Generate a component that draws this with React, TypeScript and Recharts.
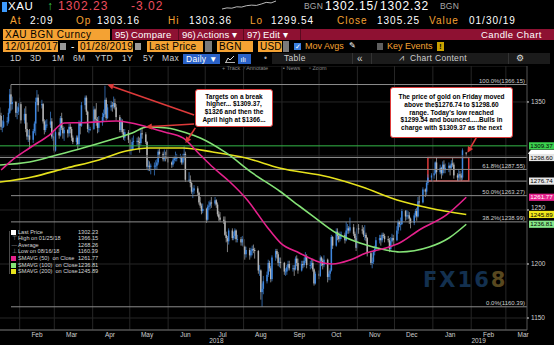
import React from "react";
import {
  Bar,
  CartesianGrid,
  ComposedChart,
  Line,
  LineChart,
  ReferenceArea,
  ReferenceDot,
  ReferenceLine,
  XAxis,
  YAxis,
} from "recharts";

const FONT = '"Liberation Sans", Arial, sans-serif';
const AMBER = "#f4a233";
const RED = "#dd3a3a";
const UP = "#3f86dd";
const DOWN = "#b4b4b4";
const MAGENTA = "#e5218c";
const GREEN = "#84e276";
const YELLOW = "#e6e21c";

// daily XAU sessions, Mon..Fri per row, starting this Monday; null = market closed
const firstSession = "2018-01-15";

const opens = [
  1338, 1338, 1337, 1327, 1327,
  1332, 1332, 1340, 1357, 1348,
  1350, 1340, 1341, 1345, 1348,
  1333, 1339, 1325, 1318, 1319,
  1315, 1323, 1330, 1350, 1354,
  1347, 1348, 1332, 1324, 1329,
  1329, 1332, 1318, 1318, 1305,
  1322, 1319, 1335, 1326, 1321,
  1324, 1321, 1327, 1325, 1317,
  1313, 1317, 1311, 1331, 1328,
  1347, 1354, 1341, 1325, 1325,
  1325, 1343, 1334, 1333, 1326,
  1331, 1336, 1339, 1352, 1335,
  1345, 1347, 1346, 1349, 1345,
  1336, 1324, 1332, 1322, 1317,
  1322, 1315, 1305, 1306, 1313,
  1314, 1314, 1313, 1312, 1321,
  1320, 1313, 1290, 1291, 1290,
  1291, 1291, 1291, 1294, 1304,
  1302, 1297, 1300, 1299, 1298,
  1294, 1292, 1296, 1298, 1298,
  1298, 1298, 1294, 1299, 1302,
  1278, 1278, 1275, 1267, 1268,
  1270, 1266, 1257, 1254, 1249,
  1251, 1241, 1253, 1254, 1257,
  1256, 1259, 1255, 1246, 1243,
  1241, 1240, 1227, 1224, 1221,
  1231, 1224, 1226, 1231, 1223,
  1223, 1220, 1223, 1216, 1209,
  1213, 1208, 1212, 1214, 1213,
  1212, 1194, 1194, 1174, 1177,
  1184, 1190, 1201, 1196, 1186,
  1206, 1212, 1209, 1201, 1202,
  1201, 1193, 1193, 1197, 1200,
  1196, 1196, 1195, 1205, 1201,
  1194, 1200, 1199, 1203, 1207,
  1199, 1199, 1201, 1195, 1182,
  1191, 1189, 1206, 1203, 1199,
  1204, 1188, 1191, 1194, 1225,
  1217, 1230, 1226, 1223, 1227,
  1227, 1222, 1231, 1233, 1231,
  1234, 1228, 1224, 1215, 1233,
  1232, 1231, 1227, 1227, 1224,
  1210, 1201, 1202, 1211, 1214,
  1222, 1224, 1222, 1227, 1226,
  1223, 1222, 1214, 1221, 1224,
  1222, 1231, 1239, 1237, 1237,
  1249, 1244, 1245, 1245, 1242,
  1238, 1245, 1249, 1244, 1258,
  1257, null, 1269, 1267, 1275,
  1280, null, 1282, 1284, 1294,
  1285, 1289, 1284, 1292, 1287,
  1289, 1291, 1289, 1293, 1292,
  1282, 1280, 1283, 1282, 1280,
  1303.16,
];

const highs = [
  1344, 1345, 1340, 1333, 1338,
  1336, 1344, 1362, 1366.15, 1355,
  1351, 1346, 1349, 1354, 1350,
  1344, 1346, 1331, 1324, 1325,
  1325, 1332, 1354, 1361, 1357,
  1352, 1349, 1334, 1333, 1334,
  1341, 1335, 1322, 1322, 1325,
  1326, 1337, 1340, 1328, 1327,
  1325, 1330, 1330, 1327, 1319,
  1319, 1319, 1333, 1332, 1350,
  1356, 1356, 1342, 1329, 1327,
  1346, 1344, 1349, 1336, 1337,
  1340, 1343, 1365, 1354, 1348,
  1351, 1350, 1355, 1353, 1348,
  1338, 1335, 1334, 1325, 1325,
  1324, 1316, 1310, 1317, 1319,
  1317, 1318, 1317, 1324, 1326,
  1322, 1314, 1296, 1295, 1293,
  1294, 1296, 1297, 1306, 1307,
  1304, 1306, 1304, 1306, 1300,
  1295, 1298, 1300, 1304, 1302,
  1302, 1300, 1302, 1309, 1304,
  1285, 1282, 1276, 1271, 1273,
  1272, 1267, 1262, 1256, 1256,
  1252, 1255, 1258, 1259, 1262,
  1262, 1260, 1257, 1249, 1248,
  1244, 1244, 1230, 1226, 1233,
  1233, 1230, 1233, 1232, 1227,
  1225, 1226, 1225, 1217, 1216,
  1215, 1215, 1217, 1218, 1215,
  1213, 1199, 1195, 1182, 1189,
  1193, 1204, 1203, 1198, 1208,
  1214, 1214, 1211, 1206, 1206,
  1202, 1196, 1199, 1203, 1203,
  1199, 1199, 1207, 1208, 1205,
  1203, 1203, 1206, 1211, 1209,
  1203, 1205, 1205, 1196, 1193,
  1194, 1208, 1207, 1205, 1208,
  1205, 1193, 1196, 1227, 1226,
  1233, 1233, 1229, 1230, 1230,
  1229, 1239, 1237, 1235, 1243,
  1237, 1230, 1226, 1236, 1237,
  1236, 1234, 1236, 1229, 1225,
  1211, 1206, 1213, 1217, 1225,
  1227, 1227, 1229, 1229, 1228,
  1226, 1224, 1225, 1228, 1227,
  1235, 1241, 1240, 1243, 1251,
  1250, 1250, 1249, 1248, 1243,
  1247, 1251, 1252, 1262, 1263,
  1271, null, 1270, 1277, 1283,
  1284, null, 1287, 1295, 1298.6,
  1292, 1290, 1295, 1296, 1293,
  1294, 1292, 1296, 1298, 1294,
  1284, 1288, 1286, 1284, 1307,
  1303.36,
];

const lows = [
  1335, 1333, 1324, 1322, 1326,
  1328, 1330, 1339, 1342, 1343,
  1336, 1334, 1338, 1341, 1330,
  1330, 1322, 1315, 1313, 1308,
  1312, 1321, 1319, 1347, 1341,
  1344, 1330, 1320, 1322, 1326,
  1326, 1316, 1314, 1303, 1304,
  1316, 1318, 1324, 1316, 1314,
  1317, 1318, 1321, 1314, 1311,
  1310, 1306, 1309, 1320, 1327,
  1343, 1338, 1322, 1321, 1323,
  1324, 1331, 1328, 1321, 1322,
  1328, 1332, 1338, 1333, 1334,
  1342, 1341, 1344, 1343, 1333,
  1322, 1322, 1320, 1315, 1314,
  1312, 1302, 1301, 1305, 1306,
  1310, 1306, 1303, 1310, 1316,
  1311, 1288, 1286, 1286, 1283,
  1282, 1287, 1287, 1292, 1298,
  1295, 1295, 1295, 1297, 1288,
  1289, 1290, 1293, 1295, 1295,
  1294, 1292, 1292, 1296, 1276,
  1276, 1271, 1265, 1261, 1265,
  1263, 1255, 1252, 1246, 1247,
  1238, 1240, 1250, 1251, 1252,
  1254, 1252, 1244, 1240, 1239,
  1237, 1226, 1220, 1211, 1218,
  1222, 1222, 1223, 1220, 1220,
  1217, 1217, 1213, 1204, 1206,
  1204, 1206, 1208, 1210, 1205,
  1191, 1189, 1167, 1160.39, 1172,
  1182, 1188, 1193, 1183, 1184,
  1203, 1205, 1198, 1197, 1196,
  1190, 1189, 1190, 1194, 1194,
  1193, 1189, 1194, 1198, 1191,
  1193, 1196, 1197, 1201, 1196,
  1195, 1196, 1193, 1180, 1181,
  1186, 1188, 1198, 1195, 1197,
  1183, 1185, 1185, 1193, 1214,
  1216, 1222, 1220, 1221, 1223,
  1219, 1221, 1228, 1228, 1229,
  1226, 1222, 1212, 1214, 1228,
  1228, 1225, 1222, 1221, 1207,
  1199, 1196, 1200, 1208, 1212,
  1219, 1217, 1220, 1224, 1220,
  1220, 1211, 1212, 1220, 1217,
  1221, 1228, 1234, 1231, 1236,
  1240, 1241, 1242, 1237, 1233,
  1236, 1243, 1240, 1243, 1253,
  1256, null, 1262, 1264, 1273,
  1277, null, 1279, 1283, 1276.74,
  1283, 1279, 1282, 1284, 1284,
  1285, 1282, 1287, 1290, 1279,
  1277, 1277, 1278, 1277, 1278,
  1299.54,
];

const closes = [
  1338, 1337, 1327, 1327, 1332,
  1332, 1340, 1357, 1348, 1350,
  1340, 1341, 1345, 1348, 1333,
  1339, 1325, 1318, 1319, 1315,
  1323, 1330, 1350, 1354, 1347,
  1348, 1332, 1324, 1329, 1329,
  1332, 1318, 1318, 1305, 1322,
  1319, 1335, 1326, 1321, 1324,
  1321, 1327, 1325, 1317, 1313,
  1317, 1311, 1331, 1328, 1347,
  1354, 1341, 1325, 1325, 1325,
  1343, 1334, 1333, 1326, 1331,
  1336, 1339, 1352, 1335, 1345,
  1347, 1346, 1349, 1345, 1336,
  1324, 1332, 1322, 1317, 1322,
  1315, 1305, 1306, 1313, 1314,
  1314, 1313, 1312, 1321, 1320,
  1313, 1290, 1291, 1290, 1291,
  1291, 1291, 1294, 1304, 1302,
  1297, 1300, 1299, 1298, 1294,
  1292, 1296, 1298, 1298, 1298,
  1298, 1294, 1299, 1302, 1278,
  1278, 1275, 1267, 1268, 1270,
  1266, 1257, 1254, 1249, 1251,
  1241, 1253, 1254, 1257, 1256,
  1259, 1255, 1246, 1243, 1241,
  1240, 1227, 1224, 1221, 1231,
  1224, 1226, 1231, 1223, 1223,
  1220, 1223, 1216, 1209, 1213,
  1208, 1212, 1214, 1213, 1212,
  1194, 1194, 1174, 1177, 1184,
  1190, 1201, 1196, 1186, 1206,
  1212, 1209, 1201, 1202, 1201,
  1193, 1193, 1197, 1200, 1196,
  1196, 1195, 1205, 1201, 1194,
  1200, 1199, 1203, 1207, 1199,
  1199, 1201, 1195, 1182, 1191,
  1189, 1206, 1203, 1199, 1204,
  1188, 1191, 1194, 1225, 1217,
  1230, 1226, 1223, 1227, 1227,
  1222, 1231, 1233, 1231, 1234,
  1228, 1224, 1215, 1233, 1232,
  1231, 1227, 1227, 1224, 1210,
  1201, 1202, 1211, 1214, 1222,
  1224, 1222, 1227, 1226, 1223,
  1222, 1214, 1221, 1224, 1222,
  1231, 1239, 1237, 1237, 1249,
  1244, 1245, 1245, 1242, 1238,
  1245, 1249, 1244, 1258, 1257,
  1269, null, 1267, 1275, 1280,
  1282, null, 1284, 1294, 1285,
  1289, 1284, 1292, 1287, 1289,
  1291, 1289, 1293, 1292, 1282,
  1280, 1283, 1282, 1280, 1305.25,
  1302.23,
];

// moving averages
const sma50 = [
  { date: "2018-01-17", value: 1287 },
  { date: "2018-01-24", value: 1294.4 },
  { date: "2018-02-09", value: 1307.4 },
  { date: "2018-02-25", value: 1319.4 },
  { date: "2018-03-09", value: 1330.6 },
  { date: "2018-03-24", value: 1330.8 },
  { date: "2018-04-20", value: 1332.4 },
  { date: "2018-05-15", value: 1326.9 },
  { date: "2018-05-29", value: 1322.2 },
  { date: "2018-06-13", value: 1316.7 },
  { date: "2018-06-27", value: 1300.9 },
  { date: "2018-07-07", value: 1289.8 },
  { date: "2018-07-21", value: 1275.9 },
  { date: "2018-08-04", value: 1259.3 },
  { date: "2018-08-20", value: 1234.3 },
  { date: "2018-08-31", value: 1219.4 },
  { date: "2018-09-15", value: 1210.2 },
  { date: "2018-10-01", value: 1201.9 },
  { date: "2018-10-12", value: 1200 },
  { date: "2018-10-26", value: 1203.7 },
  { date: "2018-11-08", value: 1210.2 },
  { date: "2018-11-24", value: 1214.8 },
  { date: "2018-12-05", value: 1219.4 },
  { date: "2018-12-21", value: 1231.5 },
  { date: "2019-01-12", value: 1245.4 },
  { date: "2019-01-28", value: 1261.77 },
];

const sma100 = [
  { date: "2018-01-16", value: 1291.7 },
  { date: "2018-02-09", value: 1294.4 },
  { date: "2018-03-03", value: 1300.9 },
  { date: "2018-03-24", value: 1307.4 },
  { date: "2018-04-15", value: 1314.8 },
  { date: "2018-05-03", value: 1321.3 },
  { date: "2018-05-15", value: 1326.9 },
  { date: "2018-05-31", value: 1325.9 },
  { date: "2018-06-16", value: 1321.3 },
  { date: "2018-06-27", value: 1316.7 },
  { date: "2018-07-18", value: 1302.8 },
  { date: "2018-08-08", value: 1284.3 },
  { date: "2018-08-30", value: 1267.6 },
  { date: "2018-09-15", value: 1253.7 },
  { date: "2018-09-26", value: 1244.4 },
  { date: "2018-10-15", value: 1228.7 },
  { date: "2018-11-03", value: 1219.4 },
  { date: "2018-11-24", value: 1213 },
  { date: "2018-12-05", value: 1211.1 },
  { date: "2018-12-29", value: 1215.7 },
  { date: "2019-01-14", value: 1224.1 },
  { date: "2019-01-28", value: 1236.81 },
];

const sma200 = [
  { date: "2018-01-16", value: 1275.9 },
  { date: "2018-02-11", value: 1280.6 },
  { date: "2018-03-11", value: 1288.9 },
  { date: "2018-04-06", value: 1296.3 },
  { date: "2018-04-28", value: 1304.6 },
  { date: "2018-05-17", value: 1307.4 },
  { date: "2018-06-13", value: 1307.4 },
  { date: "2018-07-07", value: 1303.7 },
  { date: "2018-08-03", value: 1298.1 },
  { date: "2018-08-30", value: 1288.9 },
  { date: "2018-10-09", value: 1280.6 },
  { date: "2018-11-05", value: 1271.3 },
  { date: "2018-12-03", value: 1259.3 },
  { date: "2018-12-29", value: 1251.9 },
  { date: "2019-01-28", value: 1245.89 },
];

const monthLabels = ["Feb", "Mar", "Apr", "May", "Jun", "Jul", "Aug", "Sep", "Oct", "Nov", "Dec", "Jan", "Feb", "Mar"];
const yearLabels = [
  { label: "2018", date: "2018-07-10" },
  { label: "2019", date: "2019-02-07" },
];
const priceTicks = [1150, 1200, 1250, 1350];

const fibLevels = [
  { label: "100.0%", value: 1366.15 },
  { label: "61.8%", value: 1287.55 },
  { label: "50.0%", value: 1263.27 },
  { label: "38.2%", value: 1238.99 },
  { label: "0.0%", value: 1160.39 },
];
const fibStart = "2018-01-25";

const levelLines = [
  { value: 1309.37, color: "#34b948" },
  { value: 1298.6, color: "#8a8a8a" },
  { value: 1276.74, color: "#8a8a8a" },
];

// right-edge price tags; the last-price tag sits mostly under the 1298.60 tag
const lastPrice = 1302.23;
const axisTags = [
  { value: 1309.37, bg: "#3bd24f", fg: "#000" },
  { value: 1298.6, bg: "#e6e6e6", fg: "#000" },
  { value: 1276.74, bg: "#e6e6e6", fg: "#000" },
  { value: 1261.77, bg: "#e5218c", fg: "#fff" },
  { value: 1245.89, bg: "#f0e81c", fg: "#000" },
  { value: 1236.81, bg: "#86e88a", fg: "#000" },
];

const rangeBox = { from: "2018-12-28", to: "2019-01-30", low: 1276.74, high: 1298.6 };

const arrows = [
  { from: { date: "2018-06-22", price: 1338 }, to: { date: "2018-04-13", price: 1366 } },
  { from: { date: "2018-06-22", price: 1329.6 }, to: { date: "2018-05-14", price: 1327 } },
  { from: { date: "2018-06-23", price: 1326 }, to: { date: "2018-06-15", price: 1312 } },
  { from: { date: "2019-02-05", price: 1316.7 }, to: { date: "2019-01-29", price: 1303 } },
];

const legendRows = [
  { icon: "box", color: "#ffffff", label: "Last Price", value: "1302.23" },
  { icon: "⊤", label: "High on 01/25/18", value: "1366.15" },
  { icon: "—", label: "Average", value: "1268.26" },
  { icon: "⊥", label: "Low on 08/16/18", value: "1160.39" },
  { icon: "box", color: MAGENTA, label: "SMAVG (50)  on Close", value: "1261.77" },
  { icon: "box", color: GREEN, label: "SMAVG (100)  on Close", value: "1236.81" },
  { icon: "box", color: YELLOW, label: "SMAVG (200)  on Close", value: "1245.89" },
];

const note1 = ["Targets on a break", "higher... $1309.37,", "$1326 and then the", "April high at $1366..."];
const note2 = [
  "The price of gold on Friday moved",
  "above the$1276.74 to $1298.60",
  "range. Today's low reached",
  "$1299.54 and bounced.....Bulls in",
  "charge with $1309.37 as the next",
];

const sparkline = [1276, 1280, 1279, 1284, 1283, 1288, 1290, 1289, 1294, 1300, 1298, 1305];

// ---------- helpers ----------
const DAY0 = Date.UTC(2018, 0, 1);
const dayOf = (s: string) => {
  const [y, m, d] = s.split("-").map(Number);
  return (Date.UTC(y, m - 1, d) - DAY0) / 86400000;
};
const monthDay = (k: number, d: number) => (Date.UTC(2018, 1 + k, d) - DAY0) / 86400000;

const X_DOMAIN: [number, number] = [15.1, 441.1];
const Y_DOMAIN: [number, number] = [1138.9, 1383.3];

const startDay = dayOf(firstSession);
const candles = closes
  .map((c, i) => {
    const o = opens[i];
    if (c == null || o == null) return null;
    return {
      x: startDay + Math.floor(i / 5) * 7 + (i % 5),
      open: o,
      close: c,
      high: Math.max(highs[i] as number, o, c),
      low: Math.min(lows[i] as number, o, c),
    };
  })
  .filter(Boolean) as { x: number; open: number; close: number; high: number; low: number }[];

const toSeries = (rows: { date: string; value: number }[]) => rows.map((r) => ({ x: dayOf(r.date), v: r.value }));

const monthTicks = monthLabels.map((_, k) => monthDay(k, 15));
const monthStarts = monthLabels.map((_, k) => monthDay(k, 1));
const yearTicks = yearLabels.map((y) => dayOf(y.date));

function Candle(props: any) {
  const { x, y, width, height } = props;
  const d = props.payload ?? props;
  if (x == null || y == null || d == null) return null;
  const top = Math.min(y, y + height);
  const span = Math.abs(height);
  const k = d.high > d.low ? span / (d.high - d.low) : 0;
  const yOpen = top + (d.high - d.open) * k;
  const yClose = top + (d.high - d.close) * k;
  const color = d.close >= d.open ? UP : DOWN;
  const cx = x + width / 2;
  return (
    <g>
      <line x1={cx} x2={cx} y1={top} y2={top + span} stroke={color} strokeWidth={0.7} />
      <rect
        x={cx - 0.75}
        y={Math.min(yOpen, yClose)}
        width={1.5}
        height={Math.max(0.8, Math.abs(yClose - yOpen))}
        fill={color}
      />
    </g>
  );
}

function ArrowShape(p: any) {
  const { x1, y1, x2, y2 } = p;
  if ([x1, y1, x2, y2].some((v) => v == null)) return null;
  const a = Math.atan2(y2 - y1, x2 - x1);
  const L = 6;
  const W = 3;
  const bx = x2 - L * Math.cos(a);
  const by = y2 - L * Math.sin(a);
  const pts = `${x2},${y2} ${bx + W * Math.sin(a)},${by - W * Math.cos(a)} ${bx - W * Math.sin(a)},${by + W * Math.cos(a)}`;
  return (
    <g>
      <line x1={x1} y1={y1} x2={bx} y2={by} stroke={RED} strokeWidth={1.6} />
      <polygon points={pts} fill={RED} />
    </g>
  );
}

// price-axis tick; the 1250 label peeks out above the SMA(200) tag
function PriceTick(p: any) {
  const v = p.payload?.value;
  const lift = v === 1250 ? -2.6 : 0;
  return (
    <text x={p.x} y={p.y + lift} dy="0.355em" textAnchor="start" fontSize={6.5} fill="#cfcfcf" fontFamily={FONT}>
      {v}
    </text>
  );
}

const tagShape = (tag: { value: number; bg: string; fg: string }) => (p: any) =>
  (
    <g>
      <rect x={p.cx + 2} y={p.cy - 3.6} width={25} height={7.2} fill={tag.bg} />
      <text
        x={p.cx + 14.5}
        y={p.cy + 2.2}
        textAnchor="middle"
        fontSize={6.2}
        fill={tag.fg}
        fontFamily={FONT}
      >
        {tag.value.toFixed(2)}
      </text>
    </g>
  );

const lastTagShape = (p: any) => (
  <polygon
    points={`${p.cx + 1},${p.cy} ${p.cx + 4},${p.cy - 3.8} ${p.cx + 27},${p.cy - 3.8} ${p.cx + 27},${p.cy + 2} ${p.cx + 4},${p.cy + 2}`}
    fill="#ffffff"
  />
);

const fibShape = (fib: { label: string; value: number }) => (p: any) =>
  (
    <text x={p.cx - 2} y={p.cy - 1.6} textAnchor="end" fontSize={6} fill="#cfcfcf" fontFamily={FONT}>
      {`${fib.label}(${fib.value.toFixed(2)})`}
    </text>
  );

// ---------- header pieces ----------
function Txt({ x, y, size = 10, color = "#fff", ls = 0, bold = false, children }: any) {
  return (
    <span
      style={{
        position: "absolute",
        left: x,
        top: y,
        fontSize: size,
        lineHeight: `${size}px`,
        color,
        letterSpacing: ls,
        fontWeight: bold ? 700 : 400,
        whiteSpace: "pre",
      }}
    >
      {children}
    </span>
  );
}

function Box({ x, y, w, h, bg, children }: any) {
  return (
    <div style={{ position: "absolute", left: x, top: y, width: w, height: h, background: bg }}>{children}</div>
  );
}

function Header() {
  const r2 = 15.5;
  return (
    <>
      <Box x={2} y={2} w={5} h={10} bg="#3d9bff" />
      <Txt x={8} y={1} size={11.5} ls={0.6}>XAU</Txt>
      <Txt x={47} y={0} size={12} color="#35d04c">↑</Txt>
      <Txt x={58} y={0} size={12} ls={1} color="#ec4d5e">1302.23</Txt>
      <Txt x={131} y={0} size={12} ls={1} color="#ec4d5e">-3.02</Txt>
      <div style={{ position: "absolute", left: 222, top: 0 }}>
        <LineChart width={54} height={10} data={sparkline.map((v, i) => ({ i, v }))} margin={{ top: 1, right: 0, bottom: 1, left: 0 }}>
          <YAxis hide domain={["dataMin", "dataMax"]} />
          <Line dataKey="v" stroke="#e8e8e8" strokeWidth={0.8} dot={false} isAnimationActive={false} />
        </LineChart>
      </div>
      <Txt x={304} y={2} size={8.5} ls={0.2} color="#a8a8a8">BGN</Txt>
      <Txt x={325} y={0} size={12} ls={0.8}>1302.15</Txt>
      <Txt x={374} y={0} size={12}>/</Txt>
      <Txt x={380} y={0} size={12} ls={0.8}>1302.32</Txt>
      <Txt x={440} y={2} size={8.5} ls={0.2} color="#a8a8a8">BGN</Txt>

      <Txt x={10} y={r2} ls={1} color={AMBER}>At</Txt>
      <Txt x={30} y={r2} ls={1}>2:09</Txt>
      <Txt x={76} y={r2} ls={1} color={AMBER}>Op</Txt>
      <Txt x={97} y={r2} ls={1}>1303.16</Txt>
      <Txt x={168} y={r2} ls={1} color={AMBER}>Hi</Txt>
      <Txt x={189} y={r2} ls={1}>1303.36</Txt>
      <Txt x={250} y={r2} ls={1} color={AMBER}>Lo</Txt>
      <Txt x={271} y={r2} ls={1}>1299.54</Txt>
      <Txt x={337} y={r2} ls={1} color={AMBER}>Close</Txt>
      <Txt x={377} y={r2} ls={1}>1305.25</Txt>
      <Txt x={429} y={r2} ls={1} color={AMBER}>Value</Txt>
      <Txt x={469} y={r2} ls={1}>01/30/19</Txt>

      <Box x={3} y={29} w={107} h={11} bg={AMBER} />
      <Txt x={5} y={29.6} ls={0.5} color="#000">XAU BGN Curncy</Txt>
      <Box x={112} y={29} w={442} h={11} bg="#8e1132" />
      <Box x={178} y={29} w={1} h={11} bg="#5a0a1f" />
      <Box x={243} y={29} w={1} h={11} bg="#5a0a1f" />
      <Box x={300} y={29} w={1} h={11} bg="#5a0a1f" />
      <Txt x={115} y={30} size={9.5}>95)</Txt>
      <Txt x={131} y={30} size={9.5} ls={0.2}>Compare</Txt>
      <Txt x={182} y={30} size={9.5}>96)</Txt>
      <Txt x={197} y={30} size={9.5} ls={0.2}>Actions ▾</Txt>
      <Txt x={247} y={30} size={9.5}>97)</Txt>
      <Txt x={263} y={30} size={9.5} ls={0.2}>Edit ▾</Txt>
      <Txt x={481} y={30} size={9.5} ls={0.4}>Candle Chart</Txt>

      <Box x={3} y={41} w={55} h={11} bg={AMBER} />
      <Txt x={5} y={41.6} ls={0.3} color="#000">12/01/2017</Txt>
      <Box x={60} y={43} w={6} h={7} bg="#9a9a9a" />
      <Txt x={71} y={41.6}>-</Txt>
      <Box x={78} y={41} w={55} h={11} bg={AMBER} />
      <Txt x={80} y={41.6} ls={0.3} color="#000">01/28/2019</Txt>
      <Box x={135} y={43} w={6} h={7} bg="#9a9a9a" />
      <Box x={147} y={41} w={56} h={11} bg={AMBER} />
      <Txt x={149} y={41.6} ls={0.3} color="#000">Last Price</Txt>
      <Box x={205} y={41} w={7} h={11} bg="#7a7a7a" />
      <Box x={217} y={41} w={36} h={11} bg={AMBER} />
      <Txt x={219} y={41.6} ls={0.4} color="#000">BGN</Txt>
      <Box x={258} y={41} w={24} h={11} bg={AMBER} />
      <Txt x={260} y={41.6} ls={0.2} color="#000">USD</Txt>
      <Box x={283} y={41} w={6} h={11} bg="#7a7a7a" />
      <Box x={294} y={43} w={7} h={7} bg="#3a7fe0" />
      <Txt x={294.5} y={42.5} size={7}>✓</Txt>
      <Txt x={305} y={42.2} size={9}>
        <span style={{ color: AMBER }}>Mov Avgs</span>
      </Txt>
      <Txt x={349} y={42} size={7.5}>✎</Txt>
      <Box x={377} y={43} w={6} h={7} bg="#5f5f5f" />
      <Txt x={387} y={42.2} size={9} color={AMBER}>Key Events</Txt>
      <Box x={437} y={42} w={7} h={9} bg="#c9a200" />
      <Txt x={439.3} y={43} size={7} bold color="#000">!</Txt>

      {[["1D", 10], ["3D", 30], ["1M", 52], ["6M", 73], ["YTD", 95], ["1Y", 122], ["5Y", 143], ["Max", 162]].map(([t, x]) => (
        <Txt key={t as string} x={x} y={54.3} size={8.5} ls={0.3} color="#cfcfcf">{t}</Txt>
      ))}
      <Box x={183} y={54} w={37} h={10} bg="#2a62c8" />
      <Txt x={186} y={55} size={8.5} ls={0.3}>Daily ▼</Txt>
      <svg style={{ position: "absolute", left: 225, top: 55 }} width={10} height={8}>
        <polyline points="1,7 3,3 5,5 9,1" fill="none" stroke="#ddd" strokeWidth={1} />
        <line x1={0} y1={7.5} x2={10} y2={7.5} stroke="#ddd" strokeWidth={0.8} />
      </svg>
      <Box x={238} y={54} w={13} h={10} bg="#2a62c8" />
      <Txt x={240.5} y={55.5} size={7}>ılı</Txt>
      <Txt x={264} y={54.3} size={8.5} color="#aaa">•</Txt>
      <Box x={272} y={53} w={278} h={11} bg="#1b1b1b" />
      <Box x={352} y={53} w={1} h={11} bg="#333" />
      <Box x={371} y={53} w={1} h={11} bg="#333" />
      <Box x={508} y={53} w={1} h={11} bg="#333" />
      <Txt x={284} y={54.3} size={8.5} ls={0.3} color="#cfcfcf">Table</Txt>
      <Txt x={357} y={53.5} size={10} color="#cfcfcf">«</Txt>
      <Txt x={399} y={54.3} size={8.5} color="#cfcfcf">⩘</Txt>
      <Txt x={410} y={54.3} size={8.5} ls={0.3} color="#cfcfcf">Chart Content</Txt>
      <Txt x={516} y={53.8} size={9} color="#dddddd">⚙</Txt>

      <Txt x={222} y={65.5} size={5.5} color="#8a8a8a">+ Track</Txt>
      <Txt x={244} y={65.5} size={5.5} color="#8a8a8a">⁄ Annotate</Txt>
      <Txt x={283} y={65.5} size={5.5} color="#8a8a8a">▪ News</Txt>
      <Txt x={309} y={65.5} size={5.5} color="#8a8a8a">▫ Zoom</Txt>
    </>
  );
}

function Legend() {
  const rowH = 6.6;
  return (
    <div style={{ position: "absolute", left: 7, top: 228.7, width: 100 }}>
      <div style={{ position: "absolute", left: 1.5, top: 2, width: 1, height: rowH * 7 - 3, background: "#4a4a4a" }} />
      {legendRows.map((r, i) => (
        <div key={r.label} style={{ position: "absolute", top: i * rowH, left: 0, height: rowH, width: 100 }}>
          {r.icon === "box" ? (
            <div style={{ position: "absolute", left: 4, top: 1, width: 5, height: 5, background: r.color }} />
          ) : (
            <span style={{ position: "absolute", left: 4.5, top: 0, fontSize: 5.6, lineHeight: `${rowH}px`, color: "#9a9a9a" }}>
              {r.icon}
            </span>
          )}
          <span style={{ position: "absolute", left: 11, top: 0, fontSize: 5.6, lineHeight: `${rowH}px`, color: "#d6d6d6", whiteSpace: "pre" }}>
            {r.label}
          </span>
          <span style={{ position: "absolute", left: 71, top: 0, fontSize: 5.6, lineHeight: `${rowH}px`, color: "#d6d6d6" }}>
            {r.value}
          </span>
        </div>
      ))}
    </div>
  );
}

function Note({ x, y, w, h, lines, lineH }: any) {
  return (
    <div
      style={{
        position: "absolute",
        left: x,
        top: y,
        width: w,
        height: h,
        boxSizing: "border-box",
        background: "#ffffff",
        border: `1.5px solid ${RED}`,
        borderRadius: 3,
        display: "flex",
        flexDirection: "column",
        justifyContent: "center",
        alignItems: "center",
      }}
    >
      {lines.map((l: string) => (
        <div key={l} style={{ fontSize: 6.5, lineHeight: `${lineH}px`, fontWeight: 700, color: "#000", whiteSpace: "pre" }}>
          {l}
        </div>
      ))}
    </div>
  );
}

export default function App() {
  return (
    <div style={{ position: "relative", width: 554, height: 345, background: "#000", overflow: "hidden", fontFamily: FONT }}>
      <style>{"body{margin:0;background:#000}"}</style>
      <Header />
      <div style={{ position: "absolute", left: 0, top: 66 }}>
        <ComposedChart width={554} height={279} data={candles} margin={{ top: 0, right: 0, bottom: 0, left: 0 }}>
          <CartesianGrid vertical={false} stroke="#262626" />
          <XAxis
            type="number"
            dataKey="x"
            domain={X_DOMAIN}
            allowDataOverflow
            ticks={monthTicks}
            interval={0}
            tickFormatter={(v: number) => monthLabels[monthTicks.indexOf(v)] ?? ""}
            axisLine={{ stroke: "#6a6a6a" }}
            tickLine={false}
            tickSize={0}
            tickMargin={2.5}
            height={8}
            tick={{ fontSize: 6.5, fill: "#cfcfcf", fontFamily: FONT }}
          />
          <XAxis
            xAxisId="yr"
            type="number"
            dataKey="x"
            domain={X_DOMAIN}
            allowDataOverflow
            ticks={yearTicks}
            interval={0}
            tickFormatter={(v: number) => yearLabels[yearTicks.indexOf(v)]?.label ?? ""}
            axisLine={false}
            tickLine={false}
            tickSize={0}
            tickMargin={0}
            height={7}
            tick={{ fontSize: 6.5, fill: "#cfcfcf", fontFamily: FONT }}
          />
          <YAxis
            orientation="right"
            domain={Y_DOMAIN}
            allowDataOverflow
            ticks={priceTicks}
            width={27}
            axisLine={{ stroke: "#555" }}
            tickLine={{ stroke: "#ddd" }}
            tickSize={2}
            tickMargin={2}
            tick={(p: any) => <PriceTick {...p} />}
          />
          <ReferenceLine y={1300} stroke="#262626" />
          {monthStarts.map((d) => (
            <ReferenceLine key={`m${d}`} x={d} stroke="#262626" />
          ))}
          {fibLevels.map((f) => (
            <ReferenceLine
              key={`f${f.value}`}
              segment={[
                { x: dayOf(fibStart), y: f.value },
                { x: X_DOMAIN[1], y: f.value },
              ]}
              stroke="#8c8c8c"
            />
          ))}
          {levelLines.map((l) => (
            <ReferenceLine key={`l${l.value}`} y={l.value} stroke={l.color} />
          ))}
          <Bar
            dataKey={(d: any) => [d.low, d.high]}
            barSize={2}
            shape={(p: any) => <Candle {...p} />}
            isAnimationActive={false}
          />
          <Line data={toSeries(sma200)} dataKey="v" type="monotone" stroke={YELLOW} strokeWidth={1.6} dot={false} isAnimationActive={false} />
          <Line data={toSeries(sma100)} dataKey="v" type="monotone" stroke={GREEN} strokeWidth={1.6} dot={false} isAnimationActive={false} />
          <Line data={toSeries(sma50)} dataKey="v" type="monotone" stroke={MAGENTA} strokeWidth={1.6} dot={false} isAnimationActive={false} />
          <ReferenceArea
            x1={dayOf(rangeBox.from)}
            x2={dayOf(rangeBox.to)}
            y1={rangeBox.low}
            y2={rangeBox.high}
            fill="none"
            fillOpacity={0}
            stroke={RED}
            strokeWidth={1.5}
          />
          {arrows.map((a, i) => (
            <ReferenceLine
              key={`a${i}`}
              segment={[
                { x: dayOf(a.from.date), y: a.from.price },
                { x: dayOf(a.to.date), y: a.to.price },
              ]}
              shape={(p: any) => <ArrowShape {...p} />}
            />
          ))}
          {fibLevels.map((f) => (
            <ReferenceDot key={`ft${f.value}`} x={X_DOMAIN[1]} y={f.value} ifOverflow="visible" shape={fibShape(f)} />
          ))}
          <ReferenceDot x={X_DOMAIN[1]} y={lastPrice} ifOverflow="visible" shape={lastTagShape} />
          {axisTags.map((t) => (
            <ReferenceDot key={`t${t.value}`} x={X_DOMAIN[1]} y={t.value} ifOverflow="visible" shape={tagShape(t)} />
          ))}
        </ComposedChart>
      </div>
      <Legend />
      <Note x={195} y={89} w={78} h={38} lines={note1} lineH={7.6} />
      <Note x={390} y={87} w={123} h={51} lines={note2} lineH={7.7} />
      <div
        style={{
          position: "absolute",
          left: 423,
          top: 269.6,
          fontFamily: '"DejaVu Sans", sans-serif',
          fontWeight: 700,
          fontSize: 21,
          lineHeight: "21px",
          letterSpacing: 2,
          color: "#13304f",
        }}
      >
        FX16<span style={{ color: "#58481f" }}>8</span>
      </div>
    </div>
  );
}
